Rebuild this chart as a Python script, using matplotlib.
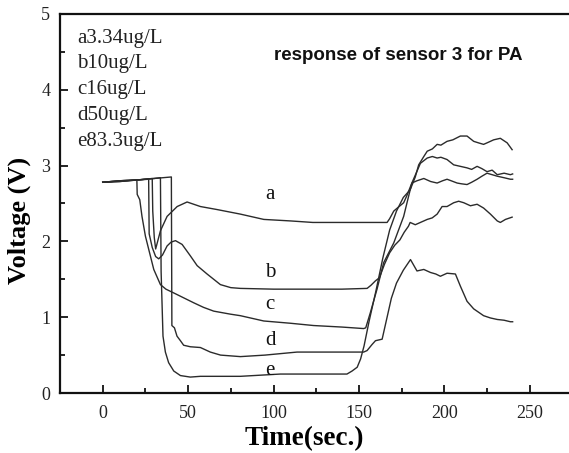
import matplotlib
matplotlib.use("Agg")
import matplotlib.pyplot as plt
from matplotlib.ticker import MultipleLocator

# ---- data ----
t_a = [0, 10, 20, 29, 29.3, 30.2, 31, 33.8, 37.7, 43.6, 49.4, 57.2, 67, 80.6, 94.3, 110, 123, 140,
       162.6, 166.5, 168, 170.4, 173, 176.2, 178, 181, 184, 188, 192, 195.8, 199, 201.6, 204,
       207.5, 210, 213.3, 216, 219.2, 222, 225, 228, 231, 235, 238.7, 240]
v_a = [2.78, 2.80, 2.81, 2.83, 2.40, 2.05, 1.90, 2.14, 2.33, 2.46, 2.52, 2.46, 2.42, 2.36, 2.29, 2.27, 2.25, 2.25,
       2.25, 2.25, 2.30, 2.40, 2.45, 2.51, 2.60, 2.77, 2.80, 2.83, 2.79, 2.77, 2.80, 2.82, 2.80,
       2.77, 2.76, 2.75, 2.78, 2.82, 2.86, 2.90, 2.88, 2.86, 2.84, 2.82, 2.82]

t_b = [0, 10, 20, 26.9, 27.2, 29, 31, 32.8, 35, 37.7, 40, 42.6, 46.5, 51.3, 55.3, 61.1, 68.9, 75, 80.6,
       100, 120, 140, 154.8, 157, 159.7, 162, 165, 168, 171, 174, 176.5, 179, 180, 183, 186, 190,
       192.9, 195.8, 198.7, 201.6, 205.5, 208.4, 211.4, 215.3, 219.2, 223, 227, 231, 232.8, 235.8, 239.7]
v_b = [2.78, 2.80, 2.81, 2.82, 2.10, 1.92, 1.80, 1.77, 1.82, 1.94, 1.99, 2.01, 1.96, 1.81, 1.68, 1.57, 1.43, 1.39, 1.38,
       1.37, 1.37, 1.37, 1.38, 1.42, 1.48, 1.52, 1.70, 1.85, 1.95, 2.02, 2.12, 2.20, 2.25, 2.22, 2.25, 2.29,
       2.31, 2.36, 2.46, 2.46, 2.51, 2.53, 2.51, 2.47, 2.49, 2.44, 2.36, 2.27, 2.25, 2.29, 2.32]

t_c = [0, 10, 20, 20.2, 21.7, 23, 25, 27, 29.9, 33.8, 37, 41.6, 47, 53.3, 59, 65, 74.8, 80.6, 94.3,
       110, 123.5, 140, 152.8, 154, 156.7, 160.6, 164.5, 170.4, 176.2, 181, 186, 190, 193, 195.8,
       198, 201.6, 205.5, 209.4, 213.3, 216, 219.2, 222, 225, 228, 231, 235, 238.7, 240]
v_c = [2.78, 2.79, 2.81, 2.62, 2.55, 2.33, 2.07, 1.89, 1.63, 1.43, 1.37, 1.32, 1.26, 1.19, 1.13, 1.08, 1.04, 1.02, 0.95,
       0.92, 0.89, 0.87, 0.85, 0.86, 1.06, 1.37, 1.72, 1.98, 2.33, 2.77, 3.03, 3.10, 3.12, 3.10,
       3.11, 3.08, 3.01, 2.99, 2.97, 2.95, 2.99, 2.96, 2.92, 2.94, 2.88, 2.90, 2.88, 2.89]

t_d = [0, 10, 20, 30, 40.2, 40.5, 42, 43.5, 45.5, 47.4, 51.3, 57.2, 63, 69, 80.6, 95, 113.8, 130, 152.8,
       154.8, 157.7, 159.7, 163.6, 166.5, 169, 172, 176, 180.2, 184, 188, 191.9, 195, 197.7, 201.6,
       206.5, 209.4, 213.3, 217.2, 223, 227, 231, 235, 238.7, 240]
v_d = [2.78, 2.80, 2.81, 2.83, 2.85, 0.89, 0.86, 0.75, 0.69, 0.63, 0.61, 0.60, 0.54, 0.50, 0.48, 0.50, 0.54, 0.54, 0.54,
       0.56, 0.64, 0.69, 0.71, 1.00, 1.25, 1.45, 1.62, 1.76, 1.61, 1.63, 1.59, 1.57, 1.54, 1.58,
       1.57, 1.41, 1.21, 1.11, 1.02, 0.99, 0.97, 0.96, 0.94, 0.94]

t_e = [0, 10, 20, 30, 33.8, 34.2, 35.3, 36.7, 38.6, 41.6, 45.5, 51.3, 57.2, 65, 80.6, 104, 125, 143,
       146, 149, 151, 153, 156, 160, 164, 168, 172, 176, 180, 183, 185, 188, 190, 193, 195.8, 198,
       201.6, 205, 209.4, 213.3, 217.2, 220, 223, 226, 228.9, 232.8, 236.8, 239.7]
v_e = [2.78, 2.79, 2.81, 2.83, 2.84, 1.60, 0.75, 0.54, 0.40, 0.29, 0.23, 0.21, 0.22, 0.22, 0.22, 0.25, 0.25, 0.25,
       0.29, 0.34, 0.45, 0.62, 0.95, 1.35, 1.78, 2.15, 2.40, 2.58, 2.68, 2.85, 3.01, 3.12, 3.19, 3.22, 3.28, 3.27,
       3.32, 3.34, 3.39, 3.39, 3.32, 3.30, 3.28, 3.31, 3.34, 3.36, 3.30, 3.21]

series = [(t_a, v_a), (t_b, v_b), (t_c, v_c), (t_d, v_d), (t_e, v_e)]
curve_labels = ["a", "b", "c", "d", "e"]
label_t = [98, 98, 98, 98, 98]
label_v = [2.62, 1.59, 1.17, 0.69, 0.30]
legend_lines = ["a3.34ug/L", "b10ug/L", "c16ug/L", "d50ug/L", "e83.3ug/L"]
legend_v = [4.68, 4.35, 4.01, 3.66, 3.32]
title_text = "response of sensor 3 for PA"

# ---- figure ----
W, H = 569, 453
fig = plt.figure(figsize=(W / 100, H / 100), dpi=100)
ax = fig.add_axes([60 / W, 60 / H, 1 - 60 / W, 379 / H])

for t, v in series:
    ax.plot(t, v, color="#2b2b2b", lw=1.0)

serif = ["Liberation Serif", "DejaVu Serif"]
for lab, tx, vy in zip(curve_labels, label_t, label_v):
    ax.text(tx, vy, lab, family=serif, fontsize=15, ha="center", va="center", color="#111111")

for txt, vy in zip(legend_lines, legend_v):
    ax.text(-15, vy, txt, family=serif, fontsize=15, ha="left", va="center", color="#222222")

ax.text(100, 4.39, title_text, family=["Liberation Sans", "DejaVu Sans"], fontsize=13.5,
        fontweight="bold", ha="left", va="baseline", color="#111111")

ax.set_xlim(-25, 273)
ax.set_ylim(0, 5)
ax.xaxis.set_major_locator(MultipleLocator(50))
ax.xaxis.set_minor_locator(MultipleLocator(25))
ax.yaxis.set_major_locator(MultipleLocator(1))
ax.yaxis.set_minor_locator(MultipleLocator(0.5))
ax.tick_params(which="both", direction="in", width=1.3, color="#111111")
ax.tick_params(which="major", length=6)
ax.tick_params(which="minor", length=3.5)
ax.tick_params(axis="x", pad=9)
ax.tick_params(axis="y", pad=7)
for lab in ax.get_xticklabels() + ax.get_yticklabels():
    lab.set_family(serif)
    lab.set_fontsize(13)
    lab.set_color("#222222")

ax.spines["right"].set_visible(False)
for s in ["left", "bottom", "top"]:
    ax.spines[s].set_linewidth(1.6)
    ax.spines[s].set_color("#111111")

ax.set_xlabel("Time(sec.)", family=serif, fontsize=19.5, fontweight="bold")
ax.set_ylabel("Voltage (V)", family=serif, fontsize=19, fontweight="bold")
ax.xaxis.set_label_coords((304 - 60) / (W - 60), -(426 - 393) / 379)
ax.yaxis.set_label_coords(-(60 - 31) / (W - 60), (393 - 220) / 379)

fig.savefig("out.png", dpi=100)
